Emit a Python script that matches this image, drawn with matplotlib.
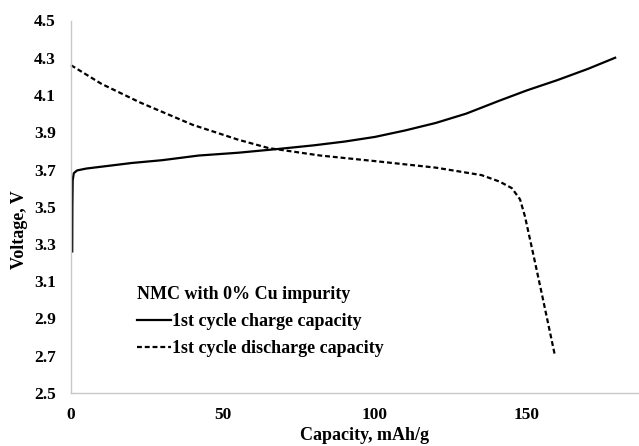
import matplotlib.pyplot as plt
import numpy as np

# 1st cycle charge curve (capacity mAh/g, voltage V)
charge_cap = [0.4, 0.45, 0.55, 0.9, 2, 5, 10, 20, 30, 42, 55, 68, 80, 90, 100, 110,
              120, 130, 141, 150, 160, 170, 179]
charge_v = [3.26, 3.50, 3.64, 3.68, 3.695, 3.705, 3.715, 3.735, 3.75, 3.775, 3.79,
            3.81, 3.83, 3.85, 3.875, 3.91, 3.95, 4.00, 4.07, 4.125, 4.18, 4.24, 4.30]

# 1st cycle discharge curve
discharge_cap = [0, 10, 22.7, 40, 55, 65, 82, 100, 120, 135, 141, 145, 147.7,
                 149.3, 152, 155.3, 159.2]
discharge_v = [4.26, 4.16, 4.06, 3.94, 3.86, 3.815, 3.775, 3.745, 3.71, 3.67,
               3.635, 3.60, 3.54, 3.45, 3.25, 3.00, 2.70]

x_ticks = [0, 50, 100, 150]
y_ticks = [2.5, 2.7, 2.9, 3.1, 3.3, 3.5, 3.7, 3.9, 4.1, 4.3, 4.5]

W, H = 639, 446
fig = plt.figure(figsize=(W / 100, H / 100), dpi=100)
plt.rcParams['font.family'] = ['Liberation Serif', 'DejaVu Serif']

# plot area (pixel measurements from the reference)
left, right, top, bottom = 71, 679, 20.5, 393
ax = fig.add_axes([left / W, 1 - bottom / H, (right - left) / W, (bottom - top) / H])

ax.plot(charge_cap, charge_v, color='black', lw=1.6, label='1st cycle charge capacity')
ax.plot(discharge_cap, discharge_v, color='black', lw=1.6, linestyle=(0, (2.2, 1.3)),
        label='1st cycle discharge capacity', clip_on=False)

ax.set_xlim(0, 200)
ax.set_ylim(2.5, 4.5)
ax.set_xticks(x_ticks)
ax.set_yticks(y_ticks)
ax.set_yticklabels([f'{v:.1f}' for v in y_ticks])
ax.tick_params(length=0, labelsize=12.5)
ax.tick_params(axis='x', pad=10)
ax.tick_params(axis='y', pad=11)
for lab in ax.get_xticklabels() + ax.get_yticklabels():
    lab.set_fontweight('bold')

for s in ['top', 'right']:
    ax.spines[s].set_visible(False)
for s in ['left', 'bottom']:
    ax.spines[s].set_color('#c8c8c8')
    ax.spines[s].set_linewidth(1.0)

ax.set_xlabel('Capacity, mAh/g', fontsize=13, fontweight='bold', va='center')
ax.set_ylabel('Voltage, V', fontsize=13, fontweight='bold', va='center')
ax.xaxis.set_label_coords((364 - left) / (right - left), -(436 - bottom) / (bottom - top))
ax.yaxis.set_label_coords(-(left - 20) / (right - left), (bottom - 230) / (bottom - top))

leg = ax.legend(loc='upper left',
                bbox_to_anchor=((130 - left) / (right - left), (bottom - 279) / (bottom - top)),
                frameon=False, title='NMC with 0% Cu impurity',
                prop={'weight': 'bold', 'size': 13},
                title_fontproperties={'weight': 'bold', 'size': 13},
                handlelength=1.85, handletextpad=0.1, labelspacing=0.55,
                alignment='left', borderaxespad=0)

fig.savefig('out.png', dpi=100)
